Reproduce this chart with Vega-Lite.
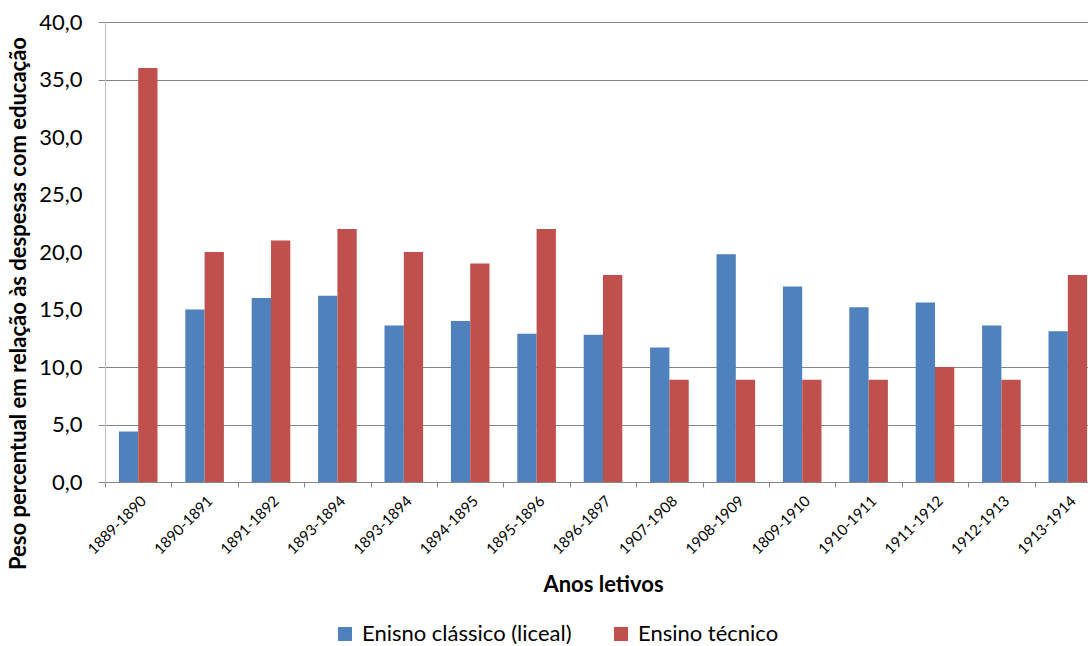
{
  "$schema": "https://vega.github.io/schema/vega-lite/v6.json",
  "autosize": {"type": "none"},
  "width": 983,
  "height": 460,
  "padding": {"left": 105, "top": 22, "right": 0, "bottom": 164},
  "background": "white",
  "config": {"view": {"stroke": null}, "font": "Lato"},
  "data": {
    "values": [
      {"ano": "1889-1890", "tipo": "Enisno clássico (liceal)", "valor": 4.4},
      {"ano": "1889-1890", "tipo": "Ensino técnico", "valor": 36.0},
      {"ano": "1890-1891", "tipo": "Enisno clássico (liceal)", "valor": 15.0},
      {"ano": "1890-1891", "tipo": "Ensino técnico", "valor": 20.0},
      {"ano": "1891-1892", "tipo": "Enisno clássico (liceal)", "valor": 16.0},
      {"ano": "1891-1892", "tipo": "Ensino técnico", "valor": 21.0},
      {"ano": "1893-1894", "tipo": "Enisno clássico (liceal)", "valor": 16.2},
      {"ano": "1893-1894", "tipo": "Ensino técnico", "valor": 22.0},
      {"ano": "1893-1894 ", "tipo": "Enisno clássico (liceal)", "valor": 13.6},
      {"ano": "1893-1894 ", "tipo": "Ensino técnico", "valor": 20.0},
      {"ano": "1894-1895", "tipo": "Enisno clássico (liceal)", "valor": 14.0},
      {"ano": "1894-1895", "tipo": "Ensino técnico", "valor": 19.0},
      {"ano": "1895-1896", "tipo": "Enisno clássico (liceal)", "valor": 12.9},
      {"ano": "1895-1896", "tipo": "Ensino técnico", "valor": 22.0},
      {"ano": "1896-1897", "tipo": "Enisno clássico (liceal)", "valor": 12.8},
      {"ano": "1896-1897", "tipo": "Ensino técnico", "valor": 18.0},
      {"ano": "1907-1908", "tipo": "Enisno clássico (liceal)", "valor": 11.7},
      {"ano": "1907-1908", "tipo": "Ensino técnico", "valor": 8.9},
      {"ano": "1908-1909", "tipo": "Enisno clássico (liceal)", "valor": 19.8},
      {"ano": "1908-1909", "tipo": "Ensino técnico", "valor": 8.9},
      {"ano": "1809-1910", "tipo": "Enisno clássico (liceal)", "valor": 17.0},
      {"ano": "1809-1910", "tipo": "Ensino técnico", "valor": 8.9},
      {"ano": "1910-1911", "tipo": "Enisno clássico (liceal)", "valor": 15.2},
      {"ano": "1910-1911", "tipo": "Ensino técnico", "valor": 8.9},
      {"ano": "1911-1912", "tipo": "Enisno clássico (liceal)", "valor": 15.6},
      {"ano": "1911-1912", "tipo": "Ensino técnico", "valor": 10.0},
      {"ano": "1912-1913", "tipo": "Enisno clássico (liceal)", "valor": 13.6},
      {"ano": "1912-1913", "tipo": "Ensino técnico", "valor": 8.9},
      {"ano": "1913-1914", "tipo": "Enisno clássico (liceal)", "valor": 13.1},
      {"ano": "1913-1914", "tipo": "Ensino técnico", "valor": 18.0}
    ]
  },
  "layer": [
    {
      "mark": {"type": "bar", "opacity": 0},
      "encoding": {
        "x": {"field": "ano", "type": "nominal", "sort": null, "axis": null},
        "xOffset": {"field": "tipo", "type": "nominal"},
        "y": {
          "field": "valor",
          "type": "quantitative",
          "axis": {
            "orient": "left",
            "values": [0, 5, 10, 35, 40],
            "grid": true,
            "gridColor": "#868686",
            "gridOpacity": 1,
            "labels": false,
            "ticks": true,
            "tickColor": "#868686",
            "tickSize": 7,
            "domain": false,
            "title": null
          }
        }
      }
    },
    {
      "mark": {"type": "bar", "clip": true},
      "encoding": {
        "x": {
          "field": "ano",
          "type": "nominal",
          "sort": null,
          "scale": {"range": [0, 996], "paddingInner": 0, "paddingOuter": 0},
          "axis": {
            "orient": "bottom",
            "title": "Anos letivos",
            "labelAngle": -45,
            "labelFontSize": 15,
            "labelPadding": 6,
            "labelColor": "#000000",
            "labelExpr": "trim(datum.label)",
            "tickBand": "extent",
            "domainColor": "#868686",
            "tickColor": "#868686",
            "tickSize": 5,
            "titleFontSize": 22,
            "titleFontWeight": "bold",
            "titleColor": "#000000",
            "titleY": 92
          }
        },
        "xOffset": {
          "field": "tipo",
          "type": "nominal",
          "scale": {"domain": ["Enisno clássico (liceal)", "Ensino técnico"], "paddingInner": 0, "paddingOuter": 0.72}
        },
        "y": {
          "field": "valor",
          "type": "quantitative",
          "scale": {"domain": [0, 40]},
          "axis": {
            "orient": "left",
            "values": [0, 5, 10, 15, 20, 25, 30, 35, 40],
            "grid": false,
            "ticks": false,
            "tickSize": 7,
            "labelExpr": "replace(format(datum.value, '.1f'), '.', ',')",
            "labelFontSize": 22,
            "labelColor": "#000000",
            "labelPadding": 23,
            "domainColor": "#BFBFBF",
            "title": "Peso percentual em relação às despesas com educação",
            "titleFontSize": 22,
            "titleFontWeight": "bold",
            "titleColor": "#000000",
            "titleBaseline": "middle",
            "titleX": -87,
            "titleY": 281
          }
        },
        "color": {
          "field": "tipo",
          "type": "nominal",
          "scale": {"domain": ["Enisno clássico (liceal)", "Ensino técnico"], "range": ["#4F81BD", "#C0504D"]},
          "legend": {
            "orient": "none",
            "legendX": 229,
            "legendY": 601,
            "direction": "horizontal",
            "title": null,
            "labelFontSize": 22,
            "labelLimit": 0,
            "labelColor": "#000000",
            "symbolType": "square",
            "symbolSize": 196,
            "symbolStrokeWidth": 0,
            "symbolOpacity": 1,
            "columnPadding": 38,
            "labelOffset": 6
          }
        }
      }
    }
  ],
  "resolve": {"axis": {"y": "independent", "x": "independent"}}
}
